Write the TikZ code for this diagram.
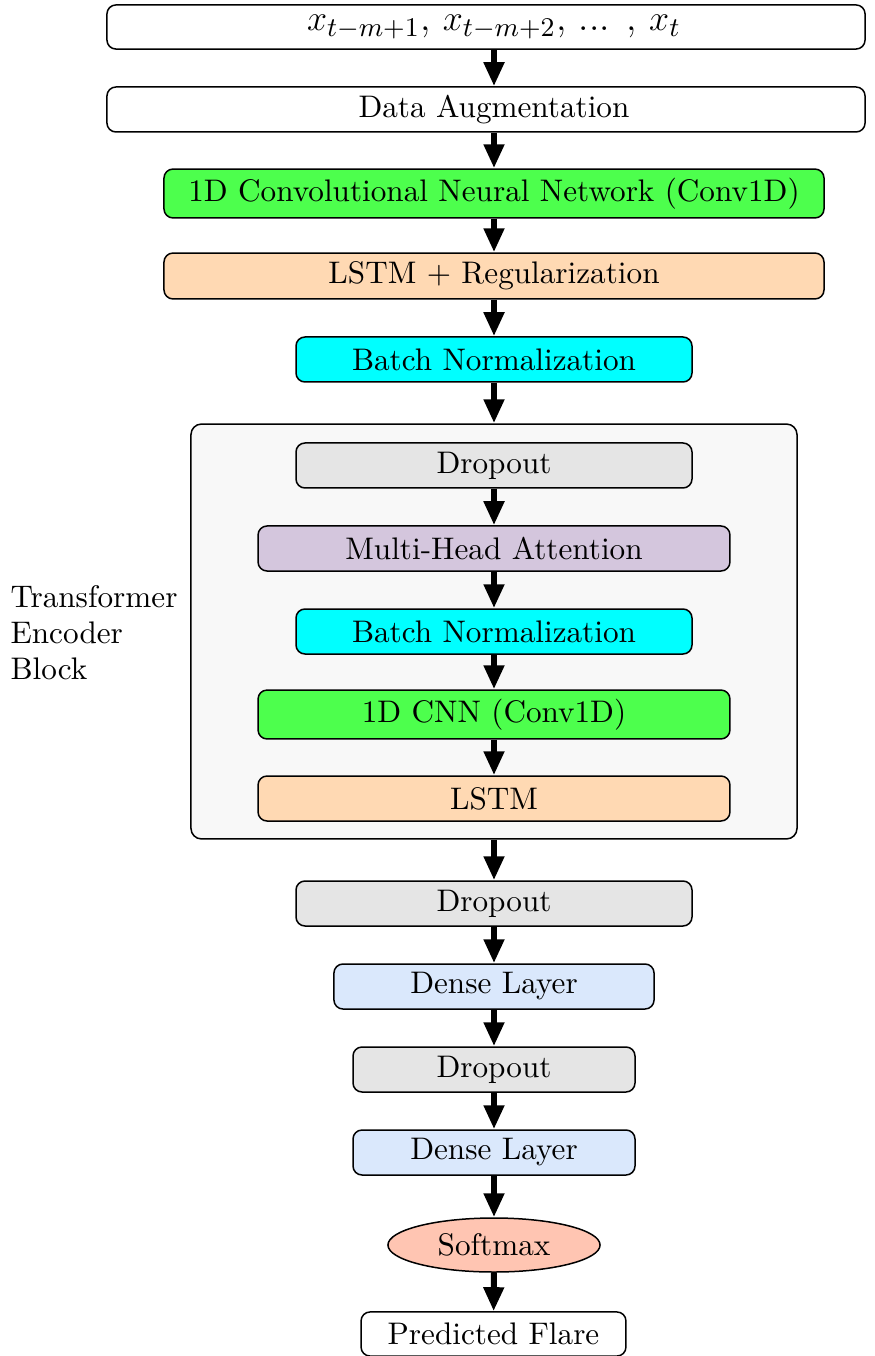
\documentclass[tikz,border=0pt]{standalone}
\usetikzlibrary{arrows.meta,shapes.geometric}
\definecolor{convgreen}{RGB}{77,255,77}
\definecolor{lstmpeach}{RGB}{255,217,179}
\definecolor{bncyan}{RGB}{0,255,255}
\definecolor{dropgray}{RGB}{229,229,229}
\definecolor{attnlilac}{RGB}{212,198,221}
\definecolor{denseblue}{RGB}{218,232,252}
\definecolor{softsalmon}{RGB}{255,197,178}
\definecolor{encfill}{RGB}{248,248,248}
\tikzset{
  layer/.style={draw=black, line width=0.5pt, rounded corners=3pt, rectangle,
    inner sep=0pt, minimum height=15pt, font=\fontsize{10.4}{12.5}\selectfont},
  encbox/.style={draw=black, line width=0.5pt, rounded corners=3.5pt, fill=encfill,
    inner sep=0pt},
  flow/.style={line width=2pt, -{Triangle[length=8pt,width=6.5pt]}},
  sidelabel/.style={align=left, inner sep=0pt, font=\fontsize{10.4}{12}\selectfont}
}
% the two wide top boxes set their text a little right of centre
\newcommand{\rightset}[1]{\hspace*{5.3pt}#1}
\begin{document}
\begin{tikzpicture}[x={(0.33333pt,0)}, y={(0,-0.33333pt)}]
\useasboundingbox (0,0) rectangle (874,1356);

% input sequence and preprocessing
\node[layer, fill=white, minimum width=252.7pt, minimum height=14.7pt,
      font=\fontsize{12.7}{14}\selectfont] (in) at (486,27)
  {\rightset{$x_{t-m+1}$, $x_{t-m+2}$, ... , $x_t$}};
\node[layer, fill=white, minimum width=252.7pt] (da) at (486,109.5) {\rightset{Data Augmentation}};
\node[layer, fill=convgreen, minimum width=220pt, minimum height=16.3pt] (conv) at (494,193.5)
  {1D Convolutional Neural Network (Conv1D)};
\node[layer, fill=lstmpeach, minimum width=220pt, minimum height=15.3pt] (lstmr) at (494,276)
  {LSTM + Regularization};
\node[layer, fill=bncyan, minimum width=132pt] (bn1) at (494,359.5) {Batch Normalization};

% transformer encoder block
\node[encbox, minimum width=202pt, minimum height=138.3pt] (enc) at (494,631.5) {};
\node[sidelabel, anchor=west] (enclabel) at (10,633) {Transformer\\Encoder\\Block};
\node[layer, fill=dropgray, minimum width=132pt] (do1) at (494,465.5) {Dropout};
\node[layer, fill=attnlilac, minimum width=157.3pt] (mha) at (494,548.5) {Multi-Head Attention};
\node[layer, fill=bncyan, minimum width=132pt] (bn2) at (494,631.5) {Batch Normalization};
\node[layer, fill=convgreen, minimum width=157.3pt, minimum height=16.3pt] (cnn) at (494,714.5)
  {1D CNN (Conv1D)};
\node[layer, fill=lstmpeach, minimum width=157.3pt] (lstm) at (494,798.5) {LSTM};

% classification head
\node[layer, fill=dropgray, minimum width=132pt] (do2) at (494,903.5) {Dropout};
\node[layer, fill=denseblue, minimum width=106.7pt] (dl1) at (494,986.5) {Dense Layer};
\node[layer, fill=dropgray, minimum width=94pt] (do3) at (494,1069.5) {Dropout};
\node[layer, fill=denseblue, minimum width=94pt] (dl2) at (494,1152.5) {Dense Layer};
\node[draw=black, line width=0.5pt, ellipse, fill=softsalmon, inner sep=0pt,
      minimum width=70.7pt, minimum height=18pt, font=\fontsize{10.4}{12.5}\selectfont]
  (sm) at (494,1245) {Softmax};
\node[layer, fill=white, minimum width=88.3pt, minimum height=14.7pt] (pf) at (493.5,1334)
  {Predicted Flare};

% connectors
\draw[flow] (in.south -| bn1.center) -- (da.north -| bn1.center);
\draw[flow] (da.south -| bn1.center) -- (conv.north);
\draw[flow] (conv) -- (lstmr);
\draw[flow] (lstmr) -- (bn1);
\draw[flow] (bn1) -- (enc.north);
\draw[flow] (do1) -- (mha);
\draw[flow] (mha) -- (bn2);
\draw[flow] (bn2) -- (cnn);
\draw[flow] (cnn) -- (lstm);
\draw[flow] (enc.south) -- (do2);
\draw[flow] (do2) -- (dl1);
\draw[flow] (dl1) -- (do3);
\draw[flow] (do3) -- (dl2);
\draw[flow] (dl2) -- (sm);
\draw[flow] (sm) -- (pf);
\end{tikzpicture}
\end{document}
